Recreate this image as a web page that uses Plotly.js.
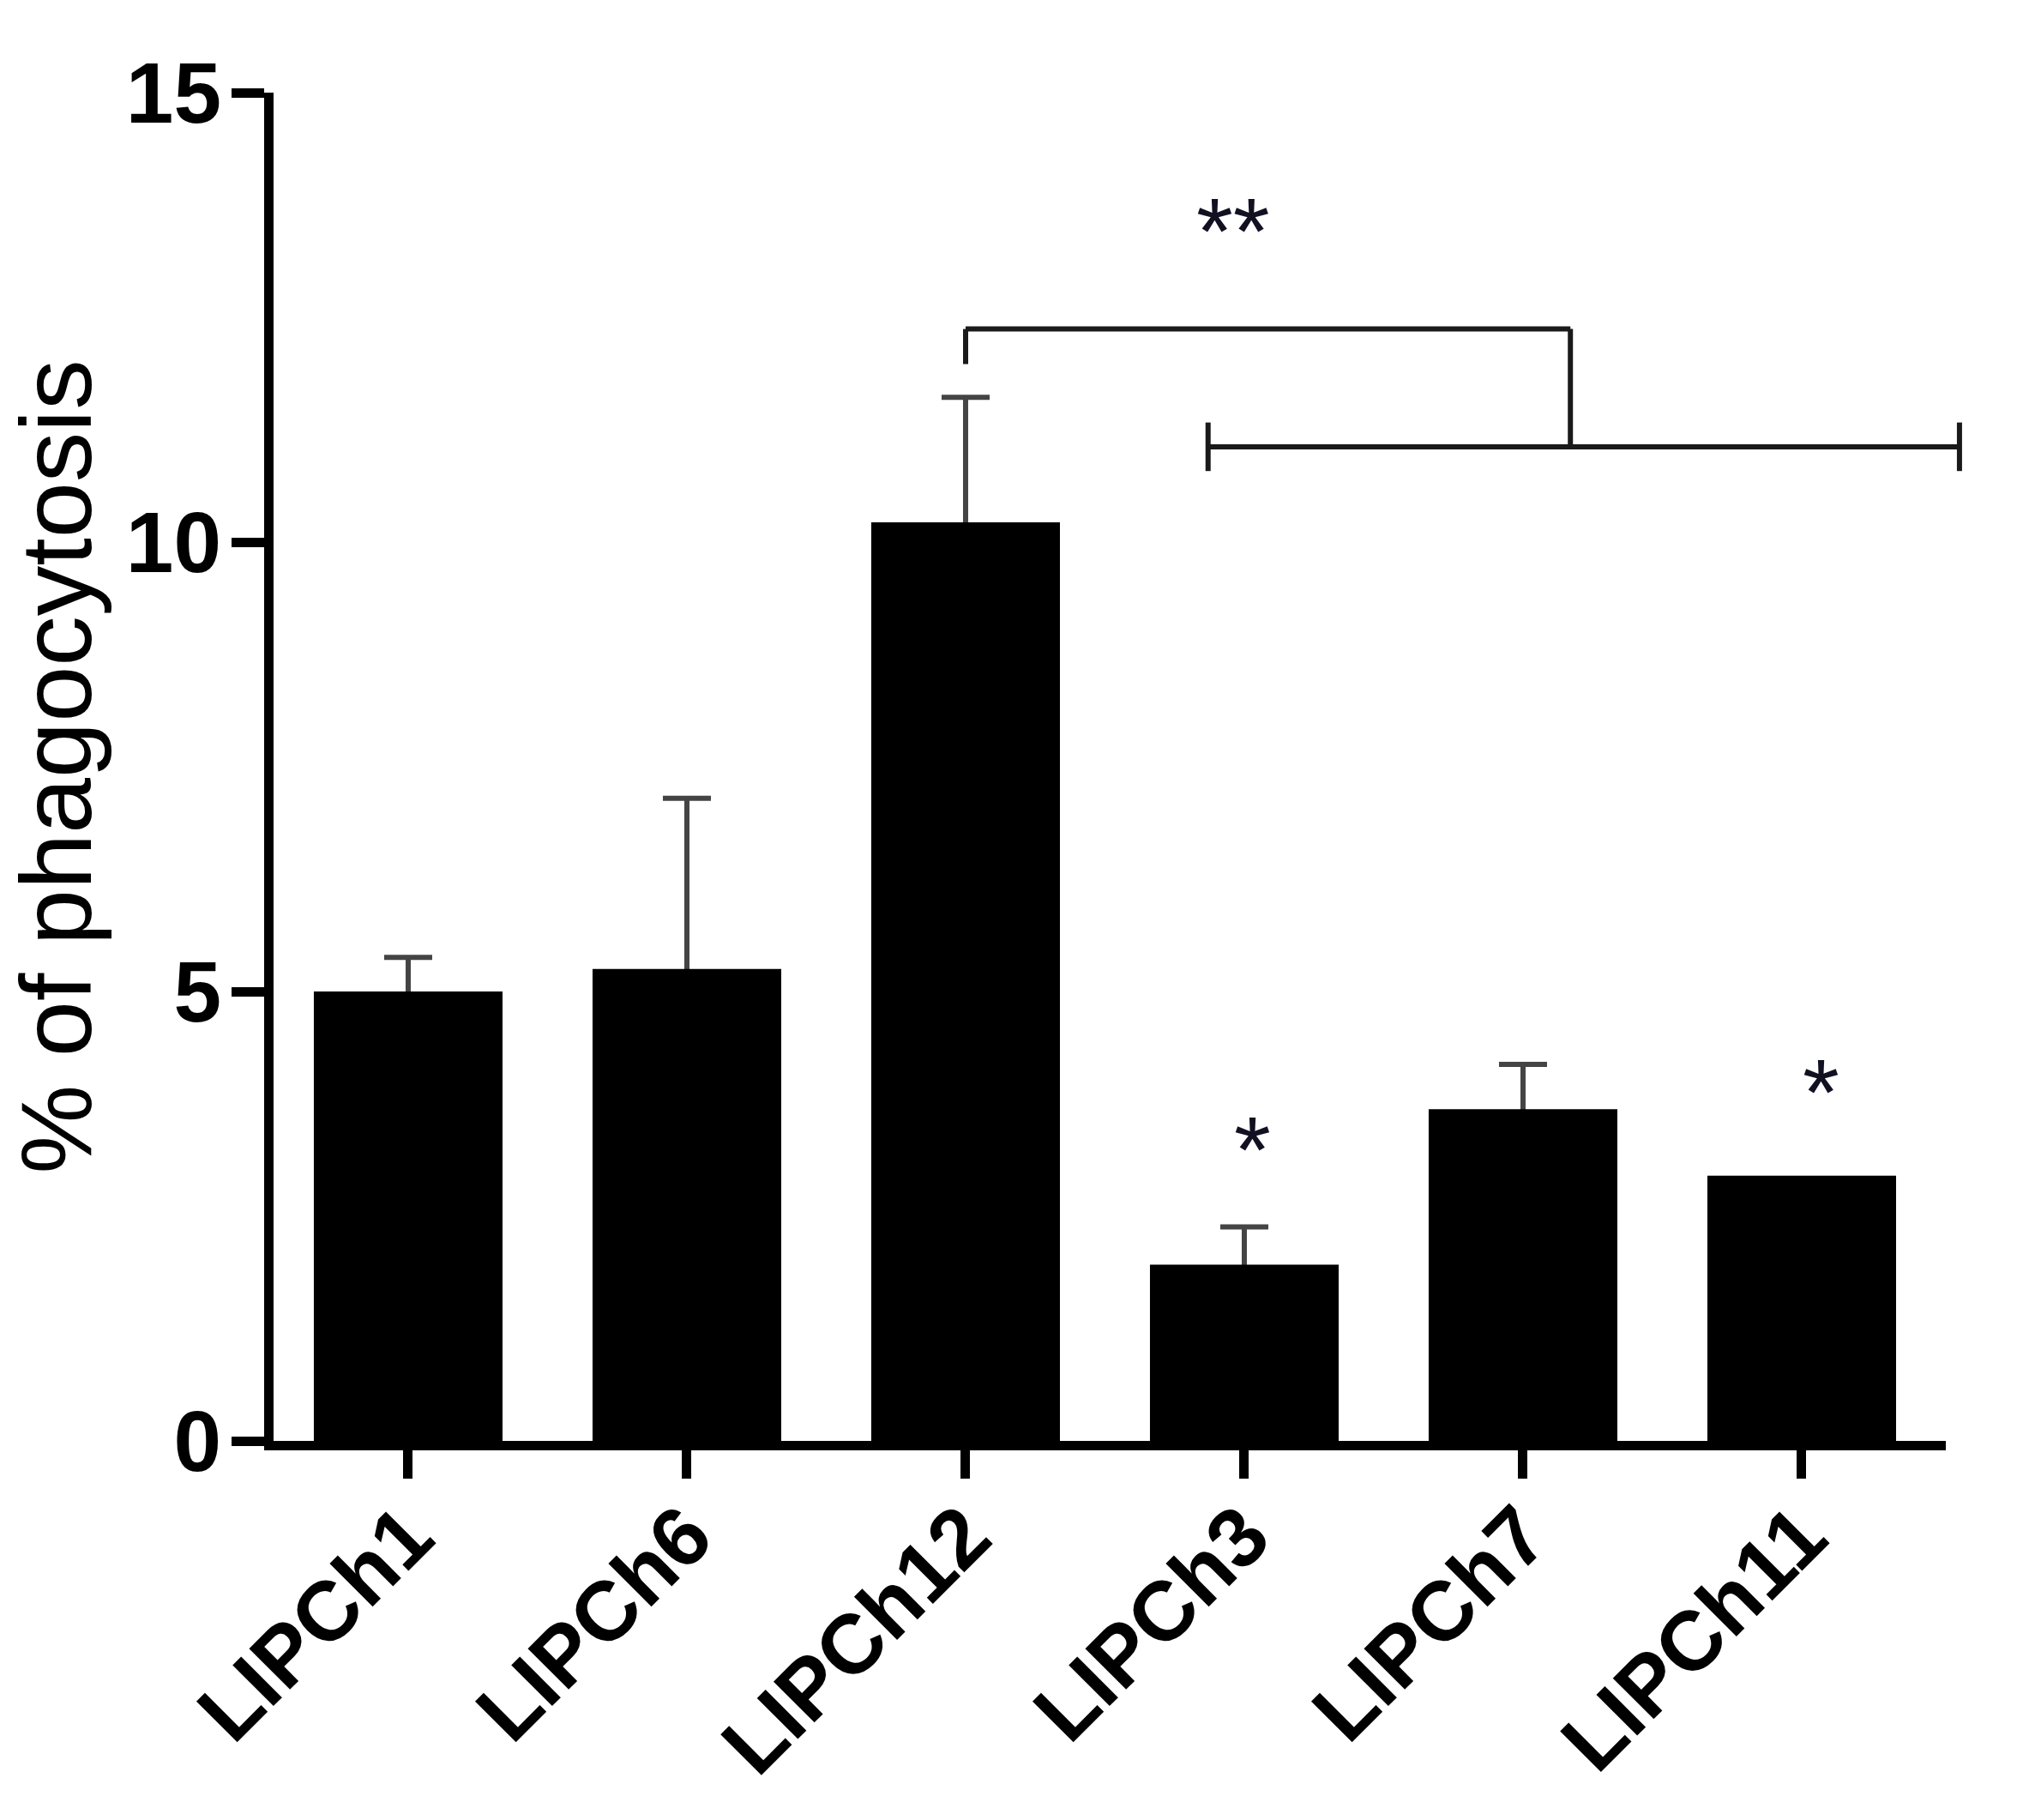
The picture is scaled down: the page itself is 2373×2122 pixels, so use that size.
<!DOCTYPE html>
<html>
<head>
<meta charset="utf-8">
<script src="https://cdn.plot.ly/plotly-3.0.1.min.js"></script>
<style>
  html, body { margin: 0; padding: 0; background: #ffffff; }
  #chart { width: 2373px; height: 2122px; }
</style>
</head>
<body>
<div id="chart"></div>
<script>
// ---- data ----
const categories = ['LIPCh1', 'LIPCh6', 'LIPCh12', 'LIPCh3', 'LIPCh7', 'LIPCh11'];
const meanValues = [5.00, 5.25, 10.22, 1.96, 3.69, 2.95];
const semValues  = [0.38, 1.90, 1.39, 0.42, 0.50, NaN];   // no error bar visible on LIPCh11
const yTickValues = [0, 5, 10, 15];
const yTickLabels = ['0', '5', '10', '15'];
const yAxisTitle = '% of phagocytosis';

// significance marks: text, category position, value
const starText  = ['**', '*', '*'];
const starX     = [2.96, 3.03, 5.07];
const starY     = [13.47, 3.25, 3.89];

// comparison bracket (category positions / values)
const upperBracketX = [2.0, 4.17];
const upperBracketY = 12.37;
const upperLeftDrop = 11.98;
const lowerBracketX = [2.87, 5.566];
const lowerBracketY = 11.06;
const lowerCapSpan  = [10.79, 11.33];

// ---- layout helpers ----
const xRange = [-0.483, 5.517];
const yRange = [0, 15];
const px = v => (v - xRange[0]) / (xRange[1] - xRange[0]);
const py = v => (v - yRange[0]) / (yRange[1] - yRange[0]);

const FONT = 'Liberation Sans, Arial, Helvetica, sans-serif';
const lineStyle = {color: '#1a1a1a', width: 6};

function seg(x0, y0, x1, y1) {
  return {type: 'line', xref: 'paper', yref: 'paper',
          x0: px(x0), y0: py(y0), x1: px(x1), y1: py(y1), line: lineStyle, layer: 'above'};
}

const shapes = [
  seg(upperBracketX[0], upperBracketY, upperBracketX[1], upperBracketY),
  seg(upperBracketX[0], upperBracketY, upperBracketX[0], upperLeftDrop),
  seg(upperBracketX[1], upperBracketY, upperBracketX[1], lowerBracketY),
  seg(lowerBracketX[0], lowerBracketY, lowerBracketX[1], lowerBracketY),
  seg(lowerBracketX[0], lowerCapSpan[0], lowerBracketX[0], lowerCapSpan[1]),
  seg(lowerBracketX[1], lowerCapSpan[0], lowerBracketX[1], lowerCapSpan[1])
];

const annotations = starText.map((t, i) => ({
  text: t, x: starX[i], y: starY[i], xref: 'x', yref: 'y',
  showarrow: false, xanchor: 'center', yanchor: 'middle',
  font: {family: FONT, size: 110, color: '#111122'}
}));

const xPos = categories.map((c, i) => i);

// transparent bars carrying the error bars (lower half hidden under the solid bars)
const errorTrace = {
  type: 'bar', x: xPos, y: meanValues,
  marker: {color: 'rgba(0,0,0,0)', line: {width: 0}},
  error_y: {type: 'data', symmetric: true, array: semValues,
            visible: true, color: '#444444', thickness: 6, width: 28},
  hoverinfo: 'none'
};

const barTrace = {
  type: 'bar', x: xPos, y: meanValues,
  marker: {color: '#000000', line: {width: 0}},
  hoverinfo: 'none'
};

const layout = {
  width: 2373, height: 2122,
  paper_bgcolor: '#ffffff', plot_bgcolor: '#ffffff',
  margin: {l: 319, r: 104, t: 108, b: 442, pad: 0},
  showlegend: false,
  barmode: 'overlay',
  bargap: 0.323,
  xaxis: {
    range: xRange, tickmode: 'array',
    tickvals: xPos, ticktext: categories,
    tickangle: -45,
    showline: true, linecolor: '#000', linewidth: 11,
    ticks: 'outside', ticklen: 33, tickwidth: 11, tickcolor: '#000',
    ticklabelstandoff: -30,
    showgrid: false, zeroline: false, automargin: false,
    tickfont: {family: FONT, size: 98, color: '#000', weight: 'bold'}
  },
  yaxis: {
    range: yRange, tickmode: 'array', tickvals: yTickValues, ticktext: yTickLabels,
    showline: true, linecolor: '#000', linewidth: 11,
    ticks: 'outside', ticklen: 38, tickwidth: 11, tickcolor: '#000',
    ticklabelstandoff: -8,
    showgrid: false, zeroline: false, automargin: false,
    tickfont: {family: FONT, size: 100, color: '#000', weight: 'bold'},
    title: {text: yAxisTitle, standoff: 28, font: {family: FONT, size: 117, color: '#000'}}
  },
  shapes: shapes,
  annotations: annotations
};

Plotly.newPlot('chart', [errorTrace, barTrace], layout, {staticPlot: true, displayModeBar: false});
</script>
</body>
</html>
